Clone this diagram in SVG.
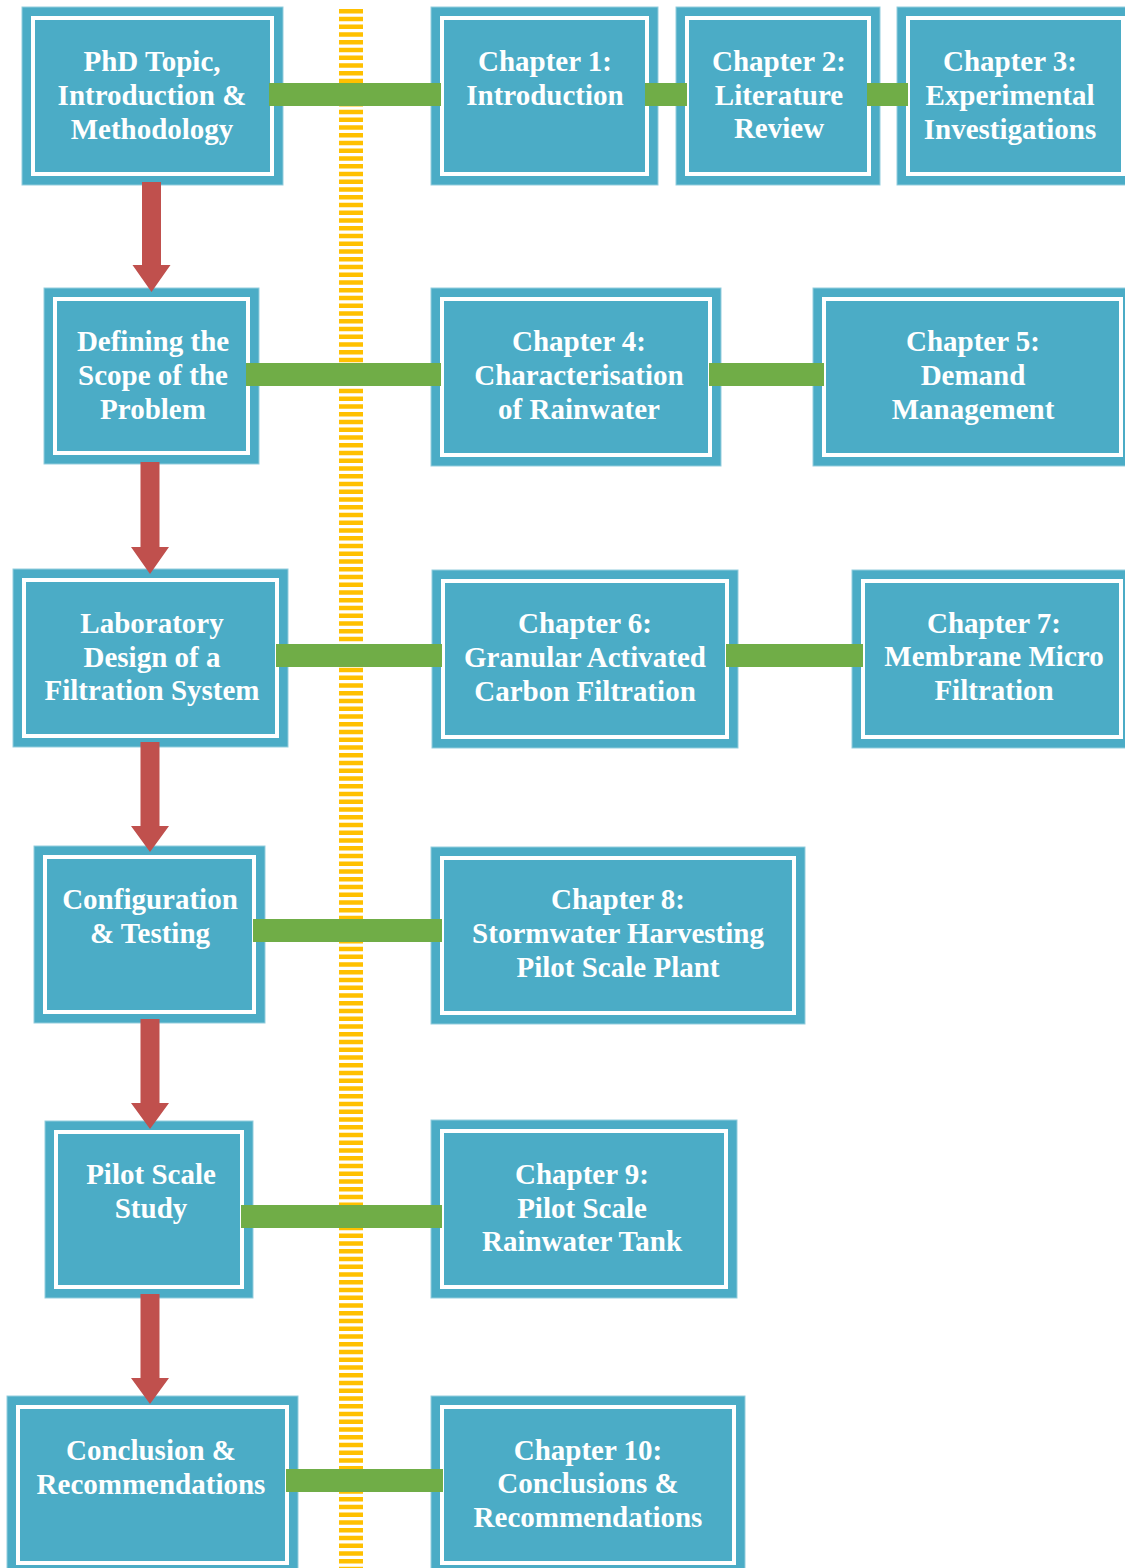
<svg xmlns="http://www.w3.org/2000/svg" width="1125" height="1568" viewBox="0 0 1125 1568">
<style>
.outer{fill:#4BACC6;stroke:#93CDDD;stroke-width:1}
.inner{fill:none;stroke:#FFFFFF;stroke-width:4}
.t{font-family:"Liberation Serif","Times New Roman",serif;font-weight:bold;font-size:29px;fill:#FFFFFF;text-anchor:middle}
.bar{fill:#70AD47}
.arrow{fill:#C0504D}
</style>
<rect width="1125" height="1568" fill="#FFFFFF"/>
<line id="timeline" x1="351" y1="9" x2="351" y2="1568" stroke="#FFC000" stroke-width="24" stroke-dasharray="4.5 3.25"/>

<g id="nodes">
<g id="n-phd">
<rect class="outer" x="22" y="7" width="261" height="178"/>
<rect class="inner" x="33" y="18" width="239" height="156"/>
<text class="t" x="152" y="71">PhD Topic,</text>
<text class="t" x="152" y="105">Introduction &amp;</text>
<text class="t" x="152" y="139">Methodology</text>
</g>
<g id="n-ch1">
<rect class="outer" x="431" y="7" width="227" height="178"/>
<rect class="inner" x="442" y="18" width="205" height="156"/>
<text class="t" x="545" y="71">Chapter 1:</text>
<text class="t" x="545" y="105">Introduction</text>
</g>
<g id="n-ch2">
<rect class="outer" x="676" y="7" width="204" height="178"/>
<rect class="inner" x="687" y="18" width="182" height="156"/>
<text class="t" x="779" y="71">Chapter 2:</text>
<text class="t" x="779" y="105">Literature</text>
<text class="t" x="779" y="138">Review</text>
</g>
<g id="n-ch3">
<rect class="outer" x="897" y="7" width="237" height="178"/>
<rect class="inner" x="908" y="18" width="215" height="156"/>
<text class="t" x="1010" y="71">Chapter 3:</text>
<text class="t" x="1010" y="105">Experimental</text>
<text class="t" x="1010" y="139">Investigations</text>
</g>

<g id="n-scope">
<rect class="outer" x="44" y="288" width="215" height="176"/>
<rect class="inner" x="55" y="299" width="193" height="154"/>
<text class="t" x="153" y="351">Defining the</text>
<text class="t" x="153" y="385">Scope of the</text>
<text class="t" x="153" y="419">Problem</text>
</g>
<g id="n-ch4">
<rect class="outer" x="431" y="288" width="290" height="178"/>
<rect class="inner" x="442" y="299" width="268" height="156"/>
<text class="t" x="579" y="351">Chapter 4:</text>
<text class="t" x="579" y="385">Characterisation</text>
<text class="t" x="579" y="419">of Rainwater</text>
</g>
<g id="n-ch5">
<rect class="outer" x="813" y="288" width="319" height="178"/>
<rect class="inner" x="824" y="299" width="297" height="156"/>
<text class="t" x="973" y="351">Chapter 5:</text>
<text class="t" x="973" y="385">Demand</text>
<text class="t" x="973" y="419">Management</text>
</g>

<g id="n-lab">
<rect class="outer" x="13" y="569" width="275" height="178"/>
<rect class="inner" x="24" y="580" width="253" height="156"/>
<text class="t" x="152" y="633">Laboratory</text>
<text class="t" x="152" y="667">Design of a</text>
<text class="t" x="152" y="700">Filtration System</text>
</g>
<g id="n-ch6">
<rect class="outer" x="432" y="570" width="306" height="178"/>
<rect class="inner" x="443" y="581" width="284" height="156"/>
<text class="t" x="585" y="633">Chapter 6:</text>
<text class="t" x="585" y="667">Granular Activated</text>
<text class="t" x="585" y="701">Carbon Filtration</text>
</g>
<g id="n-ch7">
<rect class="outer" x="852" y="570" width="280" height="178"/>
<rect class="inner" x="863" y="581" width="258" height="156"/>
<text class="t" x="994" y="633">Chapter 7:</text>
<text class="t" x="994" y="666">Membrane Micro</text>
<text class="t" x="994" y="700">Filtration</text>
</g>

<g id="n-config">
<rect class="outer" x="34" y="846" width="231" height="177"/>
<rect class="inner" x="45" y="857" width="209" height="155"/>
<text class="t" x="150" y="909">Configuration</text>
<text class="t" x="150" y="943">&amp; Testing</text>
</g>
<g id="n-ch8">
<rect class="outer" x="431" y="847" width="374" height="177"/>
<rect class="inner" x="442" y="858" width="352" height="155"/>
<text class="t" x="618" y="909">Chapter 8:</text>
<text class="t" x="618" y="943">Stormwater Harvesting</text>
<text class="t" x="618" y="977">Pilot Scale Plant</text>
</g>

<g id="n-pilot">
<rect class="outer" x="45" y="1121" width="208" height="177"/>
<rect class="inner" x="56" y="1132" width="186" height="155"/>
<text class="t" x="151" y="1184">Pilot Scale</text>
<text class="t" x="151" y="1218">Study</text>
</g>
<g id="n-ch9">
<rect class="outer" x="431" y="1120" width="306" height="178"/>
<rect class="inner" x="442" y="1131" width="284" height="156"/>
<text class="t" x="582" y="1184">Chapter 9:</text>
<text class="t" x="582" y="1218">Pilot Scale</text>
<text class="t" x="582" y="1251">Rainwater Tank</text>
</g>

<g id="n-concl">
<rect class="outer" x="7" y="1396" width="291" height="178"/>
<rect class="inner" x="18" y="1407" width="269" height="156"/>
<text class="t" x="151" y="1460">Conclusion &amp;</text>
<text class="t" x="151" y="1494">Recommendations</text>
</g>
<g id="n-ch10">
<rect class="outer" x="431" y="1396" width="314" height="178"/>
<rect class="inner" x="442" y="1407" width="292" height="156"/>
<text class="t" x="588" y="1460">Chapter 10:</text>
<text class="t" x="588" y="1493">Conclusions &amp;</text>
<text class="t" x="588" y="1527">Recommendations</text>
</g>
</g>

<g id="connectors">
<rect class="bar" x="269" y="83" width="172" height="23"/>
<rect class="bar" x="645" y="83" width="42" height="23"/>
<rect class="bar" x="867" y="83" width="41" height="23"/>
<rect class="bar" x="246" y="363" width="195" height="23"/>
<rect class="bar" x="709" y="363" width="115" height="23"/>
<rect class="bar" x="276" y="644" width="166" height="23"/>
<rect class="bar" x="726" y="644" width="137" height="23"/>
<rect class="bar" x="253" y="919" width="189" height="23"/>
<rect class="bar" x="241" y="1205" width="201" height="23"/>
<rect class="bar" x="286" y="1469" width="157" height="23"/>

<path class="arrow" d="M142,182 H161 V265 H170.5 L151.5,292 L132.5,265 H142 Z"/>
<path class="arrow" d="M140.5,462 H159.5 V547 H169 L150,574 L131,547 H140.5 Z"/>
<path class="arrow" d="M140.5,742 H159.5 V826 H169 L150,852 L131,826 H140.5 Z"/>
<path class="arrow" d="M140.5,1019 H159.5 V1103 H169 L150,1129 L131,1103 H140.5 Z"/>
<path class="arrow" d="M140.5,1294 H159.5 V1378 H169 L150,1404 L131,1378 H140.5 Z"/>
</g>
</svg>
